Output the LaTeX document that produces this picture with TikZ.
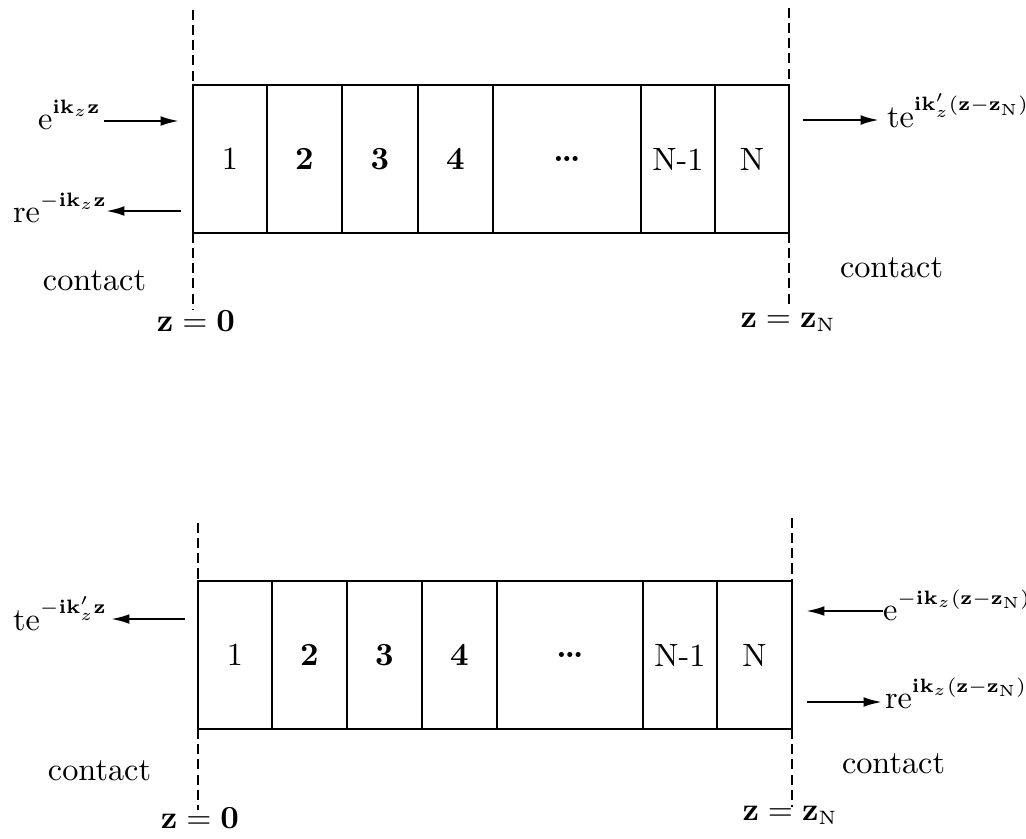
\documentclass[tikz,border=0pt]{standalone}
\usetikzlibrary{arrows.meta}
\DeclareMathSizes{10}{10}{6}{4.5}
\newcommand\upx[1]{^{\raisebox{1.3pt}{$\scriptstyle #1$}}}
\begin{document}
\begin{tikzpicture}[x=0.31pt,y=-0.31pt,
  cell/.style={draw,line width=0.9pt,inner sep=0pt,outer sep=0pt,
    minimum width=#1*0.31pt,minimum height=148*0.31pt},
  divider/.style={line width=0.9pt,dash pattern=on 3.1pt off 1.6pt},
  wave/.style={line width=0.9pt,-{Latex[length=6pt,width=3pt]}},
  lbl/.style={inner sep=0pt,outer sep=0pt}]
\useasboundingbox (0,0) rectangle (1026,838);

% ---------- top diagram ----------
\coordinate (tdl1) at (193,10);  \coordinate (tdl2) at (193,85);
\coordinate (tdl3) at (193,233); \coordinate (tdl4) at (193,310);
\coordinate (tdr1) at (789,8);   \coordinate (tdr2) at (789,85);
\coordinate (tdr3) at (789,233); \coordinate (tdr4) at (789,308);
\draw[divider] (tdl1) -- (tdl2);
\draw[divider] (tdl3) -- (tdl4);
\draw[divider] (tdr1) -- (tdr2);
\draw[divider] (tdr3) -- (tdr4);

\node[cell=74]  (t1) at (230,159)   {1};
\node[cell=75]  (t2) at (304.5,159) {\bfseries 2};
\node[cell=76]  (t3) at (380,159)   {\bfseries 3};
\node[cell=75]  (t4) at (455.5,159) {\bfseries 4};
\node[cell=148] (t5) at (567,159)   {\bfseries\dots};
\node[cell=74]  (t6) at (678,159)   {N-1};
\node[cell=74]  (t7) at (752,159)   {N};

\node[lbl,anchor=base west] (tin) at (38,129) {$\mathrm{e}\upx{\mathbf{ik}_{z}\mathbf{z}}$};
\node[lbl,anchor=base west] (tref) at (13,222) {$\mathrm{re}\upx{-\mathbf{ik}_{z}\mathbf{z}}$};
\node[lbl,anchor=base west] (ttr) at (887,127) {$\mathrm{te}\upx{\mathbf{ik}_{z}'(\mathbf{z}-\mathbf{z}_{\mathrm{N}})}$};
\coordinate (ta1) at (104,121); \coordinate (ta2) at (180,121);
\coordinate (tb1) at (181,211); \coordinate (tb2) at (105,211);
\coordinate (tc1) at (803,120); \coordinate (tc2) at (880,120);
\draw[wave] (ta1) -- (ta2);
\draw[wave] (tb1) -- (tb2);
\draw[wave] (tc1) -- (tc2);

\node[lbl,anchor=base west] (tcl) at (43,290) {contact};
\node[lbl,anchor=base west] (tcr) at (840,277) {contact};
\node[lbl,anchor=base] (tz0) at (196,331) {$\mathbf{z}=\mathbf{0}$};
\node[lbl,anchor=base] (tzn) at (788,327) {$\mathbf{z}=\mathbf{z}_{\mathrm{N}}$};

% ---------- bottom diagram ----------
\coordinate (bdl1) at (198,523); \coordinate (bdl2) at (198,581);
\coordinate (bdl3) at (198,729); \coordinate (bdl4) at (198,810);
\coordinate (bdr1) at (792,518); \coordinate (bdr2) at (792,581);
\coordinate (bdr3) at (792,729); \coordinate (bdr4) at (792,807);
\draw[divider] (bdl1) -- (bdl2);
\draw[divider] (bdl3) -- (bdl4);
\draw[divider] (bdr1) -- (bdr2);
\draw[divider] (bdr3) -- (bdr4);

\node[cell=74]  (b1) at (235,655)   {1};
\node[cell=75]  (b2) at (309.5,655) {\bfseries 2};
\node[cell=75]  (b3) at (384.5,655) {\bfseries 3};
\node[cell=75]  (b4) at (459.5,655) {\bfseries 4};
\node[cell=146] (b5) at (570,655)   {\bfseries\dots};
\node[cell=74]  (b6) at (680,655)   {N-1};
\node[cell=75]  (b7) at (754.5,655) {N};

\node[lbl,anchor=base west] (btr) at (13,630) {$\mathrm{te}\upx{-\mathbf{ik}_{z}'\mathbf{z}}$};
\node[lbl,anchor=base west] (bin) at (883,620) {$\mathrm{e}\upx{-\mathbf{ik}_{z}(\mathbf{z}-\mathbf{z}_{\mathrm{N}})}$};
\node[lbl,anchor=base west] (bref) at (885,708) {$\mathrm{re}\upx{\mathbf{ik}_{z}(\mathbf{z}-\mathbf{z}_{\mathrm{N}})}$};
\coordinate (ba1) at (185,619); \coordinate (ba2) at (110,619);
\coordinate (bb1) at (883,611); \coordinate (bb2) at (805,611);
\coordinate (bc1) at (807,702); \coordinate (bc2) at (883,702);
\draw[wave] (ba1) -- (ba2);
\draw[wave] (bb1) -- (bb2);
\draw[wave] (bc1) -- (bc2);

\node[lbl,anchor=base west] (bcl) at (48,780) {contact};
\node[lbl,anchor=base west] (bcr) at (842,773) {contact};
\node[lbl,anchor=base] (bz0) at (200,828) {$\mathbf{z}=\mathbf{0}$};
\node[lbl,anchor=base] (bzn) at (790,820) {$\mathbf{z}=\mathbf{z}_{\mathrm{N}}$};
\end{tikzpicture}
\end{document}
